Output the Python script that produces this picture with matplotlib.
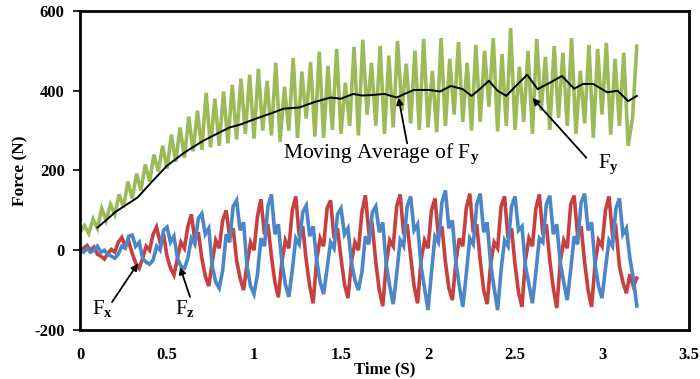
import numpy as np
import matplotlib
matplotlib.use('Agg')
import matplotlib.pyplot as plt

plt.rcParams['font.family'] = ['Liberation Serif', 'DejaVu Serif']
plt.rcParams['mathtext.fontset'] = 'custom'
plt.rcParams['mathtext.rm'] = 'Liberation Serif'
plt.rcParams['mathtext.bf'] = 'Liberation Serif:bold'

# ---------------- data ----------------
# Fy sampled every 0.025 s
fy_time = np.linspace(0, 3.2, 129)
fy = [45, 62, 42, 78, 55, 105, 75, 115, 90, 140,
      108, 172, 130, 192, 150, 215, 172, 240, 198, 262,
      205, 290, 222, 308, 232, 335, 248, 350, 252, 395,
      258, 380, 262, 398, 268, 415, 278, 430, 292, 440,
      280, 455, 300, 425, 288, 470, 272, 410, 300, 482,
      282, 448, 330, 472, 285, 498, 282, 462, 302, 505,
      292, 420, 312, 510, 288, 528, 340, 470, 312, 512,
      292, 488, 308, 525, 350, 468, 318, 500, 302, 530,
      308, 450, 296, 532, 312, 480, 340, 522, 322, 470,
      300, 515, 322, 500, 360, 532, 298, 492, 312, 557,
      302, 460, 322, 500, 292, 530, 350, 485, 302, 512,
      332, 495, 312, 532, 292, 450, 318, 515, 282, 505,
      340, 520, 290, 480, 312, 495, 262, 330, 512]

# Moving average of Fy
ma_time = [0.10, 0.15, 0.20, 0.27, 0.33, 0.42, 0.50, 0.60, 0.71, 0.80,
           0.86, 0.92, 0.98, 1.03, 1.09, 1.17, 1.26, 1.35, 1.44, 1.50,
           1.57, 1.62, 1.67, 1.75, 1.82, 1.87, 1.92, 2.01, 2.07, 2.13,
           2.20, 2.25, 2.30, 2.35, 2.40, 2.45, 2.50, 2.57, 2.63, 2.70,
           2.77, 2.84, 2.89, 2.95, 3.03, 3.09, 3.15, 3.20]
ma_fy = [57, 75, 95, 115, 132, 175, 212, 245, 275, 295,
         308, 315, 325, 333, 342, 355, 358, 372, 383, 380,
         392, 388, 389, 392, 383, 393, 402, 402, 398, 412,
         404, 387, 405, 425, 400, 387, 410, 440, 404, 420,
         437, 405, 417, 417, 396, 400, 374, 387]

# Fx and Fz sampled every 0.02 s
fxz_time = np.linspace(0, 3.2, 161)
fx = [0, 5,
      12, 0, 8, -10, -15, -22, -8, 2, -5, 20,
      32, 10, 22, -8, -32, -45, -20, 10, 0, 40,
      58, 20, 40, -15, -45, -62, -20, 20, 5, 60,
      90, 25, 45, -20, -65, -90, -30, 25, 5, 75,
      100, 35, 55, -25, -70, -100, -35, 20, 0, 85,
      128, 40, 65, -15, -80, -118, -30, 25, 5, 100,
      135, 35, 60, -25, -90, -133, -25, 30, 10, 105,
      125, 30, 55, -20, -85, -120, -30, 20, 0, 95,
      138, 45, 60, -30, -100, -140, -35, 25, 10, 110,
      140, 40, 65, -15, -90, -133, -25, 25, 5, 100,
      130, 35, 60, -30, -95, -125, -30, 30, 10, 105,
      142, 45, 65, -25, -100, -135, -35, 20, 5, 110,
      135, 30, 55, -35, -105, -142, -25, 30, 10, 105,
      140, 40, 65, -25, -95, -145, -30, 25, 5, 115,
      137, 35, 60, -30, -100, -142, -35, 25, 10, 100,
      135, 40, 55, -40, -80, -108, -60, -90, -70]
fz = [0, -5, 5, -5, 0, 10, -5, 0, -10, -15,
      -20, -10, 10, 5, 35, 38, 10, 20, -20, -30,
      -35, -25, 10, 0, 50, 58, 20, 35, -20, -40,
      -45, -20, 30, 15, 80, 92, 40, 55, -40, -80,
      -95, -50, 40, 20, 110, 125, 50, 70, -40, -90,
      -110, -60, 30, 10, 110, 140, 40, 65, -30, -85,
      -117, -50, 30, 15, 95, 112, 35, 60, -25, -80,
      -110, -45, 20, 5, 90, 105, 40, 55, -30, -75,
      -100, -55, 35, 15, 95, 110, 45, 70, -35, -90,
      -135, -60, 25, 10, 110, 135, 50, 65, -40, -95,
      -150, -55, 35, 20, 120, 150, 55, 75, -30, -90,
      -142, -60, 30, 15, 115, 142, 45, 70, -35, -95,
      -150, -50, 25, 10, 110, 135, 50, 60, -40, -85,
      -133, -55, 30, 20, 115, 137, 40, 65, -30, -80,
      -125, -50, 35, 15, 120, 142, 50, 70, -35, -90,
      -120, -45, 25, 10, 105, 130, 40, 55, -20, -70,
      -140]

x_ticks = [0, 0.5, 1, 1.5, 2, 2.5, 3, 3.5]
x_tick_labels = ['0', '0.5', '1', '1.5', '2', '2.5', '3', '3.5']
y_ticks = [-200, 0, 200, 400, 600]
y_tick_labels = ['-200', '0', '200', '400', '600']

GREEN = '#9BBB59'
RED = '#C8403E'
BLUE = '#4A86C8'

# ---------------- figure ----------------
fig = plt.figure(figsize=(7, 3.79), dpi=100)
ax = fig.add_axes([0.1143, 0.1293, 0.8700, 0.8417])

ax.plot(fxz_time, fx, color=RED, lw=2.6, solid_joinstyle='miter')
ax.plot(fxz_time, fz, color=BLUE, lw=2.6, solid_joinstyle='miter')
ax.plot(fy_time, fy, color=GREEN, lw=2.6, solid_joinstyle='miter')
ax.plot(ma_time, ma_fy, color='black', lw=1.4)

ax.set_xlim(0, 3.5)
ax.set_ylim(-200, 600)
ax.set_xticks(x_ticks)
ax.set_xticklabels(x_tick_labels)
ax.set_yticks(y_ticks)
ax.set_yticklabels(y_tick_labels)

for s in ax.spines.values():
    s.set_linewidth(2.0)
    s.set_color('black')

ax.tick_params(axis='x', length=0, pad=12, labelsize=12)
ax.tick_params(axis='y', length=5, width=1.2, direction='out', pad=6, labelsize=12)
for lab in ax.get_xticklabels() + ax.get_yticklabels():
    lab.set_fontweight('bold')

ax.set_xlabel('Time (S)', fontsize=12, fontweight='bold', labelpad=-1)
ax.set_ylabel('Force (N)', fontsize=12.5, fontweight='bold', labelpad=4)

arrow_kw = dict(arrowstyle='-|>', color='black', lw=1.3, mutation_scale=10,
                shrinkA=0, shrinkB=0)

ax.annotate('', xy=(1.83, 383), xytext=(1.88, 268), arrowprops=arrow_kw)
ax.text(1.167, 230, r'Moving Average of F$_\mathbf{y}$', fontsize=15.5,
        ha='left', va='baseline')

ax.annotate('', xy=(2.60, 382), xytext=(2.91, 232), arrowprops=arrow_kw)
ax.text(2.977, 205, r'F$_\mathbf{y}$', fontsize=15, ha='left', va='baseline')

ax.annotate('', xy=(0.333, -33), xytext=(0.184, -130), arrowprops=arrow_kw)
ax.text(0.069, -162, r'F$_\mathbf{x}$', fontsize=15, ha='left', va='baseline')

ax.annotate('', xy=(0.575, -42), xytext=(0.632, -117), arrowprops=arrow_kw)
ax.text(0.546, -162, r'F$_\mathbf{z}$', fontsize=15, ha='left', va='baseline')

fig.savefig('out.png', dpi=100)
